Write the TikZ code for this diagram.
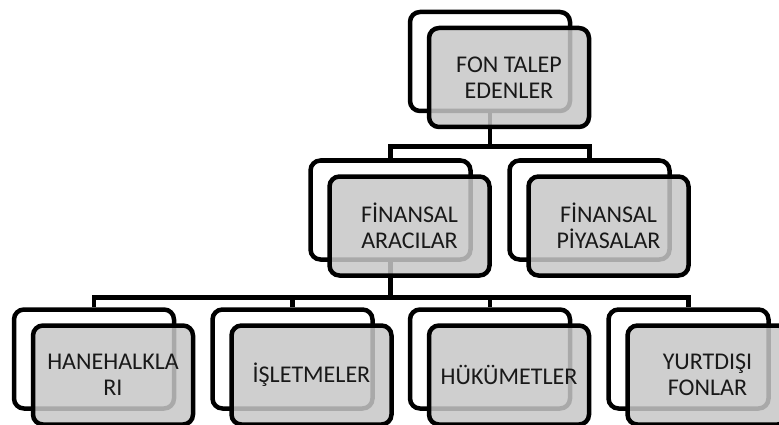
\documentclass[tikz,border=0pt]{standalone}
\usepackage{fontspec}
\setmainfont{Carlito}
\usetikzlibrary{calc}
\tikzset{
  wb/.style={draw,line width=4.5pt,rounded corners=10pt,fill=white,minimum width=160pt,minimum height=99pt,inner sep=0pt},
  gb/.style={wb,fill=black!22,fill opacity=0.85,text opacity=1,text=black!90,align=center,font=\fontsize{24}{25.5}\selectfont},
  lnk/.style={line width=4.5pt},
  every picture/.style={x=1pt,y=-1pt},
}
\begin{document}
\begin{tikzpicture}
\useasboundingbox (0,0) rectangle (779,425);
% back boxes
\node[wb] (fonw) at (490,61.5){};
\node[wb] (araw) at (390.5,210){}; \node[wb] (piyw) at (589.5,210){};
\node[wb] (hanw) at (94,359){}; \node[wb] (islw) at (292.5,359){};
\node[wb] (hukw) at (490,359){}; \node[wb] (yurw) at (688.5,359){};
% links
\draw[lnk] (fonw.south) -- ++(0,33.5) -| (araw.north);
\draw[lnk] (fonw.south) -- ++(0,33.5) -| (piyw.north);
\foreach \c in {hanw,islw,hukw,yurw}
  \draw[lnk] (araw.south) -- ++(0,35.5) -| (\c.north);
% front boxes
\node[gb] (fon) at ([shift={(19,16)}]fonw.center){FON TALEP\\EDENLER};
\node[gb] (ara) at ([shift={(19,16)}]araw.center){FİNANSAL\\ARACILAR};
\node[gb] (piy) at ([shift={(19,16)}]piyw.center){FİNANSAL\\PİYASALAR};
\node[gb] (han) at ([shift={(19,16)}]hanw.center){HANEHALKLA\\RI};
\node[gb] (isl) at ([shift={(19,16)}]islw.center){İŞLETMELER};
\node[gb] (huk) at ([shift={(19,16)}]hukw.center){HÜKÜMETLER};
\node[gb] (yur) at ([shift={(19,16)}]yurw.center){YURTDIŞI\\FONLAR};
\end{tikzpicture}
\end{document}
